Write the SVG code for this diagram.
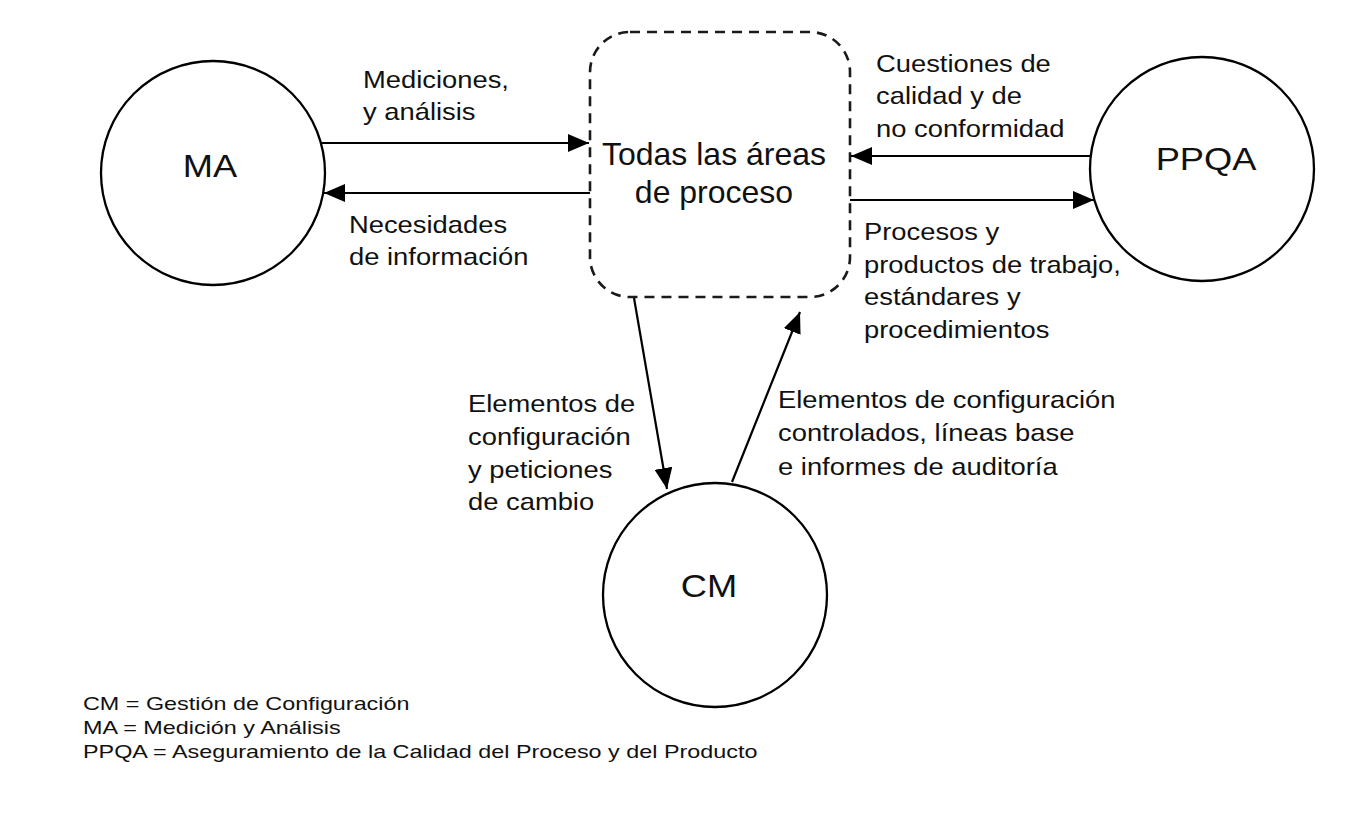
<svg xmlns="http://www.w3.org/2000/svg" width="1350" height="814" viewBox="0 0 1350 814">
  <style>
    .node { fill: #ffffff; stroke: #000000; stroke-width: 2.3; }
    .box { fill: #ffffff; stroke: #1a1a1a; stroke-width: 2.6; stroke-dasharray: 10 7; }
    .conn { fill: none; stroke: #000000; stroke-width: 2.2; marker-end: url(#arrow); }
    .lbl { font-family: "Liberation Sans", Arial, sans-serif; font-size: 24px; fill: #111111; }
    .nlbl { font-family: "Liberation Sans", Arial, sans-serif; font-size: 31px; fill: #111111; text-anchor: middle; }
    .clbl { font-family: "Liberation Sans", Arial, sans-serif; font-size: 32px; fill: #111111; text-anchor: middle; }
    .leg { font-family: "Liberation Sans", Arial, sans-serif; font-size: 19px; fill: #111111; }
  </style>
  <defs>
    <marker id="arrow" markerUnits="userSpaceOnUse" markerWidth="22" markerHeight="18" refX="21" refY="9" orient="auto">
      <path d="M0,0 L21,9 L0,18 Z" fill="#000000"/>
    </marker>
  </defs>
  <rect width="1350" height="814" fill="#ffffff"/>

  <g id="node-all">
    <rect class="box" x="590" y="32" width="260" height="265" rx="40" ry="40"/>
    <text class="clbl"><tspan x="714" y="165">Todas las áreas</tspan><tspan x="714" y="203">de proceso</tspan></text>
  </g>

  <g id="node-MA">
    <circle class="node" cx="213" cy="173" r="112"/>
    <text class="nlbl" transform="translate(210,177) scale(1.17,1)">MA</text>
  </g>

  <g id="node-PPQA">
    <circle class="node" cx="1202" cy="169" r="112"/>
    <text class="nlbl" transform="translate(1206,170) scale(1.17,1)">PPQA</text>
  </g>

  <g id="node-CM">
    <circle class="node" cx="715" cy="595" r="112"/>
    <text class="nlbl" transform="translate(709,597) scale(1.17,1)">CM</text>
  </g>

  <g id="connectors">
    <line class="conn" x1="322" y1="143" x2="589" y2="143"/>
    <line class="conn" x1="590" y1="193" x2="324" y2="193"/>
    <line class="conn" x1="1091" y1="156" x2="851" y2="156"/>
    <line class="conn" x1="850" y1="200" x2="1094" y2="200"/>
    <line class="conn" x1="634" y1="298" x2="667" y2="489"/>
    <line class="conn" x1="732" y1="482" x2="800" y2="312"/>
  </g>

  <g id="labels">
    <text class="lbl" transform="translate(363,88) scale(1.14,1)"><tspan x="0" y="0">Mediciones,</tspan><tspan x="0" y="32">y análisis</tspan></text>
    <text class="lbl" transform="translate(349,233) scale(1.14,1)"><tspan x="0" y="0">Necesidades</tspan><tspan x="0" y="32">de información</tspan></text>
    <text class="lbl" transform="translate(876,72) scale(1.14,1)"><tspan x="0" y="0">Cuestiones de</tspan><tspan x="0" y="32">calidad y de</tspan><tspan x="0" y="65">no conformidad</tspan></text>
    <text class="lbl" transform="translate(864,240) scale(1.14,1)"><tspan x="0" y="0">Procesos y</tspan><tspan x="0" y="33">productos de trabajo,</tspan><tspan x="0" y="65">estándares y</tspan><tspan x="0" y="98">procedimientos</tspan></text>
    <text class="lbl" transform="translate(468,412) scale(1.14,1)"><tspan x="0" y="0">Elementos de</tspan><tspan x="0" y="33">configuración</tspan><tspan x="0" y="66">y peticiones</tspan><tspan x="0" y="98">de cambio</tspan></text>
    <text class="lbl" transform="translate(778,408) scale(1.14,1)"><tspan x="0" y="0">Elementos de configuración</tspan><tspan x="0" y="33">controlados, líneas base</tspan><tspan x="0" y="67">e informes de auditoría</tspan></text>
  </g>

  <g id="legend">
    <text class="leg" transform="translate(83,710) scale(1.23,1)"><tspan x="0" y="0">CM = Gestión de Configuración</tspan><tspan x="0" y="24">MA = Medición y Análisis</tspan><tspan x="0" y="48">PPQA = Aseguramiento de la Calidad del Proceso y del Producto</tspan></text>
  </g>
</svg>
